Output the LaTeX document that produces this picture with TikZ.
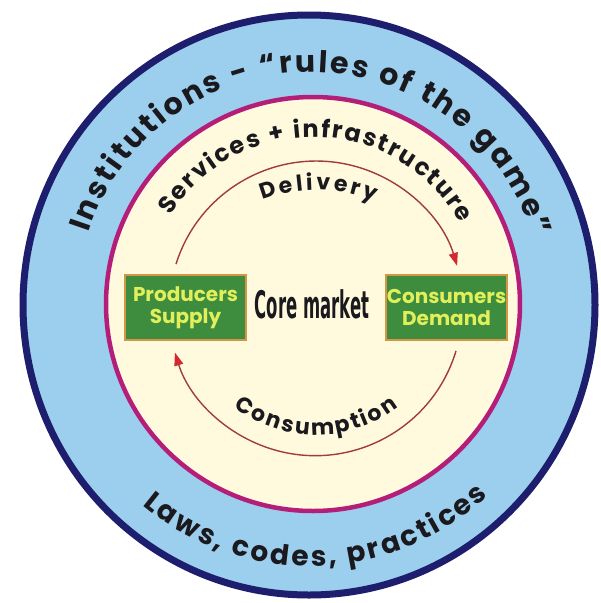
\documentclass[tikz,border=0pt]{standalone}
\usepackage{fontspec}
\usetikzlibrary{decorations.text,arrows.meta,calc}
\newfontfamily\pop{Poppins}
\newfontfamily\coref{DejaVu Sans}
\definecolor{ringblue}{RGB}{156,206,238}
\definecolor{navyedge}{RGB}{30,30,110}
\definecolor{magedge}{RGB}{180,30,120}
\definecolor{cream}{RGB}{255,250,222}
\definecolor{boxgreen}{RGB}{62,140,62}
\definecolor{boxedge}{RGB}{210,150,70}
\definecolor{boxtext}{RGB}{225,240,90}
\definecolor{textdark}{RGB}{25,25,30}
\definecolor{flowline}{RGB}{160,60,60}
\definecolor{arrowred}{RGB}{210,40,50}
\begin{document}
\begin{tikzpicture}[x=1pt,y=1pt,
  outerring/.style={draw=navyedge,line width=7pt,fill=ringblue},
  innerring/.style={draw=magedge,line width=4.5pt,fill=cream},
  marketbox/.style={draw=boxedge,line width=1.8pt,fill=boxgreen,text=boxtext,
    minimum width=121pt,minimum height=65pt,inner sep=0pt,align=center,
    font=\pop\bfseries\fontsize{20}{22}\selectfont},
  flow/.style={draw=flowline,line width=1.4pt,
    -{Triangle[length=13pt,width=9pt,color=arrowred]}},
  arctext/.style={decorate,decoration={text along path,text align=fit to path,text color=textdark}}
]
\useasboundingbox (0,0) rectangle (601,-603);
\fill[white] (0,0) rectangle (601,-603);
% rings
\path[outerring] (309,-305) ellipse[x radius=286,y radius=290];
\path[innerring] (313,-304) circle[radius=207];
% ring texts
\path[arctext,decoration={text={|\pop\bfseries\fontsize{30}{30}\selectfont|Institutions - “rules of the game”}}]
  (310,-305) ++(162:233) arc[start angle=162,end angle=17,radius=233];
\path[arctext,decoration={text={|\pop\bfseries\fontsize{28}{28}\selectfont|Laws, codes, practices}}]
  (310,-305) ++(230:261) arc[start angle=230,end angle=313,radius=261];
\path[arctext,decoration={text={|\pop\bfseries\fontsize{24}{24}\selectfont|Services + infrastructure}}]
  (313,-305) ++(148:168) arc[start angle=148,end angle=29,radius=168];
\path[arctext,decoration={text={|\pop\bfseries\fontsize{22}{22}\selectfont|Delivery}}]
  (316,-340) ++(111:150) arc[start angle=111,end angle=67,radius=150];
\path[arctext,decoration={text={|\pop\bfseries\fontsize{22}{22}\selectfont|Consumption}}]
  (316,-300) ++(232.5:135) arc[start angle=232.5,end angle=307.6,radius=135];
% core
\node[marketbox] (prod) at (185.5,-307.5) {Producers\\Supply};
\node[marketbox] (cons) at (446.5,-307.5) {Consumers\\Demand};
\node[text=textdark,font=\coref\bfseries\fontsize{38}{38}\selectfont,inner sep=0pt] (core) at (312,-304) {\scalebox{0.434}[1]{Core market}};
% flows
\draw[flow] ([shift={(-9.5,10)}]prod.north) arc[start angle=162.6,end angle=16.7,radius=147];
\draw[flow] ([shift={(9.5,-10)}]cons.south) arc[start angle=-16.7,end angle=-162.6,radius=147];
\end{tikzpicture}
\end{document}
